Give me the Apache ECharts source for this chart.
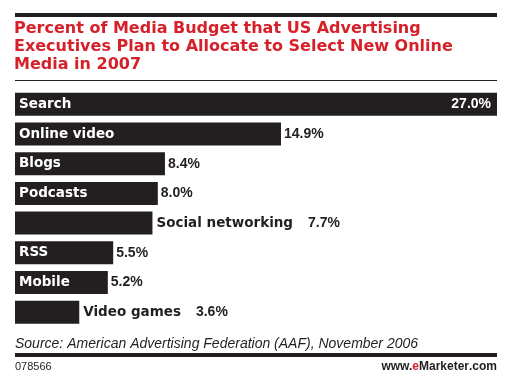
<!DOCTYPE html>
<html>
<head>
<meta charset="utf-8">
<script src="https://cdn.jsdelivr.net/npm/echarts@6/dist/echarts.min.js"></script>
<style>html,body{margin:0;padding:0;background:#fff}#c{width:505px;height:381px}</style>
</head>
<body>
<div id="c"></div>
<script>
const categories = ['Search', 'Online video', 'Blogs', 'Podcasts', 'Social networking', 'RSS', 'Mobile', 'Video games'];
const values = [27.0, 14.9, 8.4, 8.0, 7.7, 5.5, 5.2, 3.6];
const outsideNames = ['Social networking', 'Video games'];
const titleText = 'Percent of Media Budget that US Advertising\nExecutives Plan to Allocate to Select New Online\nMedia in 2007';
const sourceText = 'Source: American Advertising Federation (AAF), November 2006';
const chartId = '078566';

const INK = '#231f20';
const RED = '#d6212b';
const FONT = '"Liberation Sans", Arial, sans-serif';
const HEAVY = '"DejaVu Sans", sans-serif';

const barData = categories.map((c, i) => {
  const outside = outsideNames.indexOf(c) >= 0;
  if (outside) {
    return {
      value: values[i],
      label: {
        show: true, position: 'right', distance: 4,
        formatter: '{n|' + c + '}{v|' + values[i].toFixed(1) + '%}',
        rich: {
          n: { color: INK, fontWeight: 'bold', fontSize: 13.5, fontFamily: HEAVY },
          v: { color: INK, fontWeight: 'bold', fontSize: 14, fontFamily: FONT, padding: [0, 0, 0, 15] }
        }
      }
    };
  }
  return { value: values[i] };
});

const valueData = categories.map((c, i) => {
  const outside = outsideNames.indexOf(c) >= 0;
  if (outside) return { value: values[i], label: { show: false } };
  if (i === 0) return { value: values[i], label: { position: 'insideRight', distance: 6, color: '#fff' } };
  return { value: values[i] };
});

const chart = echarts.init(document.getElementById('c'), null, { renderer: 'canvas' });
chart.setOption({
  backgroundColor: '#fff',
  animation: false,
  title: [
    {
      text: titleText, left: 14, top: 20, padding: 0,
      textStyle: { color: RED, fontSize: 16, fontWeight: 'bold', fontFamily: HEAVY, lineHeight: 18 }
    },
    {
      text: sourceText, left: 15, top: 337, padding: 0,
      textStyle: { color: INK, fontSize: 14, fontStyle: 'italic', fontWeight: 'normal', fontFamily: FONT }
    },
    {
      text: chartId, left: 15, top: 361, padding: 0,
      textStyle: { color: INK, fontSize: 11, fontWeight: 'normal', fontFamily: FONT }
    },
    {
      text: '{a|www.}{e|e}{m|Marketer}{a|.com}', right: 8, top: 361, padding: 0,
      textStyle: {
        rich: {
          a: { color: INK, fontSize: 12, fontFamily: FONT },
          e: { color: RED, fontSize: 12, fontWeight: 'bold', fontFamily: FONT },
          m: { color: INK, fontSize: 12, fontWeight: 'bold', fontFamily: FONT }
        }
      }
    }
  ],
  graphic: [
    { type: 'rect', shape: { x: 15, y: 13, width: 482, height: 4 }, style: { fill: INK } },
    { type: 'rect', shape: { x: 15, y: 80, width: 482, height: 1 }, style: { fill: INK } },
    { type: 'rect', shape: { x: 15, y: 353, width: 482, height: 4 }, style: { fill: INK } }
  ],
  grid: { left: 15, right: 8, top: 89.5, height: 237.5, containLabel: false },
  xAxis: { type: 'value', min: 0, max: 27, show: false },
  yAxis: { type: 'category', data: categories, inverse: true, show: false },
  series: [
    {
      type: 'bar', data: barData, barWidth: 23, barGap: '-100%',
      itemStyle: { color: INK },
      label: {
        show: true, position: 'insideLeft', distance: 4, formatter: '{b}',
        color: '#fff', fontSize: 13.5, fontWeight: 'bold', fontFamily: HEAVY
      },
      z: 2
    },
    {
      type: 'bar', data: valueData, barWidth: 23, barGap: '-100%',
      itemStyle: { color: 'rgba(0,0,0,0)' },
      label: {
        show: true, position: 'right', distance: 3,
        formatter: p => p.value.toFixed(1) + '%',
        color: INK, fontSize: 14, fontWeight: 'bold', fontFamily: FONT
      },
      z: 3
    }
  ]
});
</script>
</body>
</html>
